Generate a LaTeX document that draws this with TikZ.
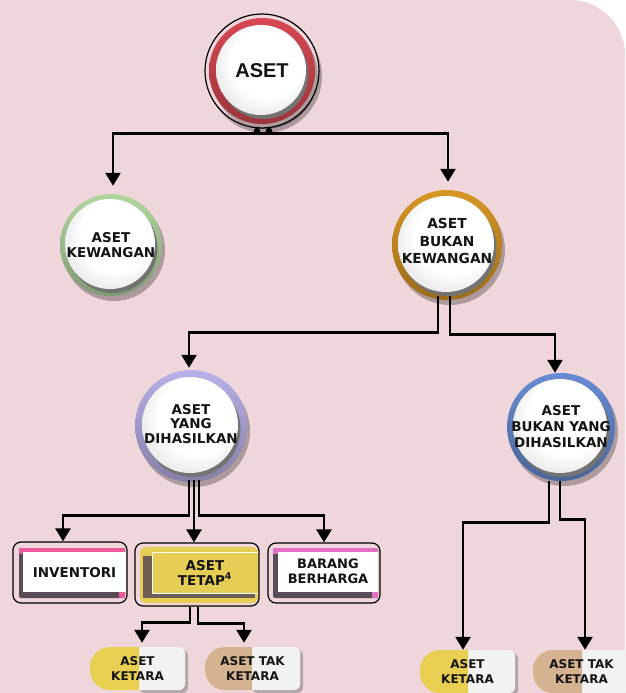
\documentclass[tikz,border=0pt]{standalone}
\usepackage{fontspec}
\newfontfamily\dvs{DejaVu Sans}
\newfontfamily\lib{Liberation Sans}
\usetikzlibrary{arrows.meta,calc}
\definecolor{bgpink}{RGB}{239,214,218}
\definecolor{ringred}{RGB}{216,72,82}
\definecolor{ringgreen}{RGB}{178,214,160}
\definecolor{ringorange}{RGB}{216,150,36}
\definecolor{ringlav}{RGB}{184,176,232}
\definecolor{ringblue}{RGB}{104,140,212}
\definecolor{invpink}{RGB}{236,90,156}
\definecolor{barpink}{RGB}{226,112,196}
\definecolor{shadowgr}{RGB}{88,76,86}
\definecolor{tetapyel}{RGB}{230,205,85}
\definecolor{pillyel}{RGB}{232,207,82}
\definecolor{pilltan}{RGB}{214,179,144}
\definecolor{pillgrey}{RGB}{242,242,242}
\definecolor{txt}{RGB}{20,20,20}
\pgfdeclareradialshading{diskshade}{\pgfpoint{6bp}{8bp}}{%
  color(0bp)=(white); color(20bp)=(white); color(29bp)=(black!8); color(36bp)=(black!28); color(50bp)=(black!45)}
% ring + white disk decoration: x, y, R, r, colour
\newcommand\ringdisk[5]{%
  \fill[black,opacity=.28] (#1+3,#2+5) circle[radius=#3pt];
  \shade[top color=#5, bottom color=#5!72!black] (#1,#2) circle[radius=#3pt];
  \fill[black!55] (#1+1.5,#2+3) circle[radius=#4pt];
  \shade[shading=diskshade] (#1-1,#2-1) circle[radius=#4pt];
}
% pill decoration: x1, x2, split, y1, y2, colour
\newcommand\pillbg[6]{%
  \fill[black!50,opacity=.55,rounded corners=6pt] (#3,#4+3) rectangle (#2+3,#5+3);
  \fill[pillgrey,rounded corners=6pt] (#3-10,#4) rectangle (#2,#5);
  \begin{scope}
    \clip (#1-1,#4-1) rectangle (#3,#5+1);
    \fill[#6,rounded corners=20pt] (#1,#4) rectangle (#2,#5);
  \end{scope}
}
\tikzset{
  ballnode/.style={circle, minimum size=#1, inner sep=0pt, align=center, text=txt,
    font=\dvs\bfseries\fontsize{13.5}{15}\selectfont},
  boxnode/.style={draw=black, line width=1.2pt, rounded corners=8pt, inner sep=0pt,
    align=center, text=txt},
  pillnode/.style={inner sep=0pt, align=center, text=txt,
    font=\dvs\bfseries\fontsize{12}{15}\selectfont},
  arr/.style={line width=2.6pt, -{Triangle[width=15pt,length=13pt]}},
}
\begin{document}
\begin{tikzpicture}[x=1pt,y=-1pt]
\useasboundingbox (0,0) rectangle (625,693);
\fill[white] (0,0) rectangle (625,693);
\fill[bgpink] (0,0) -- (570,0) arc[start angle=90,end angle=0,radius=55pt] -- (625,693) -- (0,693) -- cycle;

% ---- circle decorations ----
\fill[black,opacity=.28] (265,76) circle[radius=57pt];
\fill[bgpink] (262,71) circle[radius=57pt];
\draw[black, line width=1.2pt] (262,71) circle[radius=57pt];
\ringdisk{262}{71}{53}{45}{ringred}
\ringdisk{111}{245}{51}{45}{ringgreen}
\ringdisk{447}{245}{55}{48}{ringorange}
\ringdisk{191}{426}{56}{48}{ringlav}
\ringdisk{561}{427}{54}{47}{ringblue}

% ---- circle nodes ----
\node[ballnode=114pt, font=\lib\bfseries\fontsize{20}{22}\selectfont] (aset) at (262,71) {ASET};
\node[ballnode=102pt] (ak) at (111,245) {ASET\\KEWANGAN};
\node[ballnode=110pt, font=\dvs\bfseries\fontsize{13.8}{17.5}\selectfont] (abk) at (447,241) {ASET\\BUKAN\\KEWANGAN};
\node[ballnode=112pt, font=\dvs\bfseries\fontsize{13.5}{14.8}\selectfont] (ayd) at (191,424) {ASET\\YANG\\DIHASILKAN};
\node[ballnode=108pt, font=\dvs\bfseries\fontsize{13.5}{16}\selectfont] (abyd) at (561,427) {ASET\\BUKAN YANG\\DIHASILKAN};

% ---- box decorations ----
% INVENTORI
\fill[shadowgr, rounded corners=2pt] (19,548) rectangle (125,598);
\fill[invpink] (19,548) rectangle (125,554);
\fill[invpink] (119,590) rectangle (125,598);
\fill[white] (23,552) rectangle (126,592);
% ASET TETAP
\fill[tetapyel, rounded corners=6pt] (140,547) rectangle (258,603);
\fill[shadowgr, opacity=.85] (143,556) rectangle (255,598);
\fill[tetapyel] (152,552) rectangle (259,593);
\draw[white, line width=1pt] (152,552) rectangle (259,593);
% BARANG BERHARGA
\fill[shadowgr, rounded corners=2pt] (273,548) rectangle (378,598);
\fill[barpink] (273,548) rectangle (378,554);
\fill[barpink] (372,590) rectangle (378,598);
\fill[white] (278,552) rectangle (378,592);

% ---- box nodes ----
\node[boxnode, minimum width=114pt, minimum height=61pt,
  font=\dvs\bfseries\fontsize{13.5}{16}\selectfont] (inv) at (70,572.5) {\hspace*{9pt}INVENTORI};
\node[boxnode, minimum width=124pt, minimum height=63pt,
  font=\dvs\bfseries\fontsize{13.5}{16}\selectfont] (tetap) at (197,574.5)
  {\hspace*{16pt}\begin{tabular}{@{}c@{}}ASET\\[-2pt]TETAP\textsuperscript{4}\end{tabular}};
\node[boxnode, minimum width=112pt, minimum height=60pt,
  font=\dvs\bfseries\fontsize{13}{16}\selectfont] (barang) at (324,573)
  {\hspace*{8pt}\begin{tabular}{@{}c@{}}BARANG\\[-1pt]BERHARGA\end{tabular}};

% ---- pills ----
\pillbg{90}{185}{139}{647}{690}{pillyel}
\pillbg{205}{300}{252}{647}{690}{pilltan}
\pillbg{420}{515}{468}{650}{693}{pillyel}
\pillbg{533}{630}{582}{650}{693}{pilltan}
\node[pillnode, minimum width=95pt, minimum height=43pt] (k1) at (137.5,668.5) {ASET\\KETARA};
\node[pillnode, minimum width=95pt, minimum height=43pt] (tk1) at (252.5,668.5) {ASET TAK\\KETARA};
\node[pillnode, minimum width=95pt, minimum height=43pt] (k2) at (467.5,671.5) {ASET\\KETARA};
\node[pillnode, minimum width=97pt, minimum height=43pt] (tk2) at (581.5,671.5) {ASET TAK\\KETARA};

% ---- connectors ----
\coordinate (asetj) at ($(aset.south)+(0,5)$);
\draw[arr, shorten >=8pt] (asetj) -| ([xshift=2pt]ak.north);
\draw[arr, shorten >=4pt] (asetj) -| ([xshift=1pt]abk.north);
\fill (aset.south) ++(-5,3) circle[radius=3.4pt];
\fill (aset.south) ++(7,3) circle[radius=3.4pt];

\draw[arr] ([xshift=-9pt]abk.south) -- ++(0,36) -| ([xshift=-2pt]ayd.north);
\draw[arr] ([xshift=3pt]abk.south) -- ++(0,38) -| ([xshift=-6pt]abyd.north);

\draw[arr] ([xshift=-2pt]ayd.south) -- ++(0,35) -| ([xshift=-7pt]inv.north);
\draw[arr] ([xshift=3pt]ayd.south) -- ([xshift=-3pt]tetap.north);
\draw[arr] ([xshift=8pt]ayd.south) -- ++(0,35) -| (barang.north);

\draw[arr] ([xshift=-12pt]abyd.south) -- ++(0,41) -| ([xshift=-4.5pt]k2.north);
\draw[arr] ([xshift=-1pt]abyd.south) -- ++(0,38) -| ([xshift=3.5pt]tk2.north);

\draw[arr, shorten >=4pt] ([xshift=-7pt]tetap.south) -- ++(0,16) -| ([xshift=4.5pt]k1.north);
\draw[arr, shorten >=4pt] ([xshift=1pt]tetap.south) -- ++(0,17) -| ([xshift=-8.5pt]tk1.north);
\end{tikzpicture}
\end{document}
